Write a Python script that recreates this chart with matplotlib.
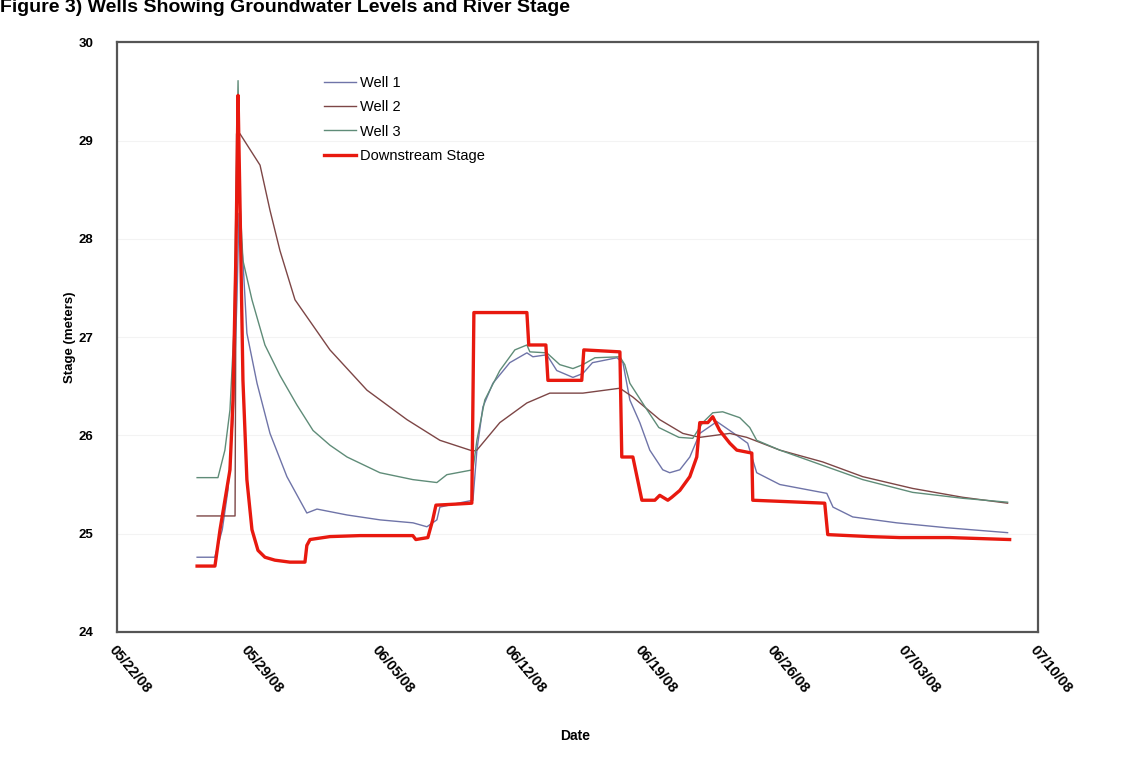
import pandas as pd
import numpy as np
import matplotlib
matplotlib.use("Agg")
import matplotlib.pyplot as plt
import matplotlib.dates as mdates

plt.rcParams["font.family"] = ["Liberation Sans", "DejaVu Sans"]

start = pd.Timestamp("2008-05-22")

# days after 05/22/08 and stage in meters
well1_day = [4.26, 5.2, 5.6, 5.9, 6.17, 6.38, 6.49, 6.7, 6.91, 7.45, 8.14, 9.04, 10.1, 10.64, 12.24, 14.0, 15.75, 16.49, 17.02, 17.18, 18.4, 18.94,
             19.15, 19.47, 20.0, 20.9, 21.81, 22.13, 22.87, 23.4, 24.26, 24.79, 25.3, 26.6, 26.92, 27.29, 27.82, 28.35, 29.04, 29.41, 29.95, 30.48,
             31.01, 31.92, 32.98, 33.56, 34.04, 35.27, 37.77, 38.1, 39.15, 41.49, 44.15, 47.39]
well1_val = [24.76, 24.76, 25.04, 25.44, 26.16, 27.38, 28.26, 27.78, 27.04, 26.53, 26.02, 25.58, 25.21, 25.25, 25.19, 25.14, 25.11, 25.07, 25.14, 25.27, 25.32, 25.34,
             25.85, 26.29, 26.53, 26.74, 26.84, 26.8, 26.82, 26.66, 26.59, 26.63, 26.74, 26.79, 26.74, 26.36, 26.13, 25.85, 25.65, 25.62, 25.65, 25.78,
             26.02, 26.14, 26.0, 25.92, 25.62, 25.5, 25.41, 25.27, 25.17, 25.11, 25.06, 25.01]

well2_day = [4.26, 6.28, 6.36, 6.54, 7.61, 8.14, 8.67, 9.47, 11.33, 13.3, 15.43, 17.18, 18.94, 19.15, 20.37, 21.81, 23.03, 24.79, 26.76, 27.45,
             28.88, 30.11, 31.01, 32.61, 33.51, 35.27, 37.55, 39.68, 42.34, 45.0, 47.39]
well2_val = [25.18, 25.18, 29.07, 29.07, 28.75, 28.29, 27.88, 27.38, 26.87, 26.46, 26.16, 25.95, 25.84, 25.85, 26.13, 26.33, 26.43, 26.43, 26.48, 26.39,
             26.16, 26.02, 25.98, 26.02, 25.98, 25.85, 25.73, 25.58, 25.46, 25.37, 25.31]

well3_day = [4.26, 5.37, 5.74, 6.01, 6.22, 6.33, 6.44, 6.54, 6.7, 7.18, 7.87, 8.67, 9.57, 10.43, 11.33, 12.24, 13.99, 15.74, 17.02, 17.55, 18.94,
             19.15, 19.57, 20.37, 21.17, 21.81, 21.97, 22.87, 23.56, 24.26, 24.79, 25.43, 26.76, 27.02, 27.29, 28.1, 28.83, 29.9, 30.64, 31.17, 31.7,
             32.23, 33.14, 33.67, 34.04, 35.27, 37.77, 39.68, 42.34, 45.0, 47.39]
well3_val = [25.57, 25.57, 25.85, 26.26, 27.07, 28.39, 29.61, 28.39, 27.78, 27.38, 26.92, 26.61, 26.31, 26.05, 25.9, 25.78, 25.62, 25.55, 25.52, 25.6, 25.65,
             25.95, 26.36, 26.66, 26.87, 26.92, 26.85, 26.84, 26.72, 26.68, 26.72, 26.79, 26.8, 26.72, 26.53, 26.29, 26.08, 25.98, 25.97, 26.13, 26.23,
             26.24, 26.18, 26.08, 25.95, 25.85, 25.68, 25.55, 25.42, 25.36, 25.32]

stage_day = [4.26, 5.21, 5.48, 5.74, 6.01, 6.17, 6.33, 6.44, 6.54, 6.7, 6.91, 7.18, 7.5, 7.87, 8.4, 9.2, 10.0, 10.1, 10.27, 11.33, 12.93, 15.05,
             15.74, 15.9, 16.54, 16.8, 16.97, 17.98, 18.88, 18.99, 21.81, 21.91, 22.82, 22.93, 24.73, 24.84, 26.76, 26.86, 27.45, 27.93, 28.62,
             28.88, 29.31, 29.52, 29.95, 30.48, 30.85, 31.01, 31.44, 31.7, 32.07, 32.61, 32.98, 33.78, 33.83, 37.66, 37.82, 40.05, 41.65, 44.31, 47.5]
stage_val = [24.67, 24.67, 25.04, 25.34, 25.65, 26.36, 27.88, 29.46, 28.39, 26.56, 25.55, 25.04, 24.83, 24.76, 24.73, 24.71, 24.71, 24.88, 24.94, 24.97, 24.98, 24.98,
             24.98, 24.94, 24.96, 25.14, 25.29, 25.3, 25.31, 27.25, 27.25, 26.92, 26.92, 26.56, 26.56, 26.87, 26.85, 25.78, 25.78, 25.34, 25.34,
             25.39, 25.34, 25.37, 25.44, 25.58, 25.78, 26.13, 26.13, 26.19, 26.05, 25.92, 25.85, 25.82, 25.34, 25.31, 24.99, 24.97, 24.96, 24.96, 24.94]

tick_dates = ["2008-05-22", "2008-05-29", "2008-06-05", "2008-06-12", "2008-06-19", "2008-06-26", "2008-07-03", "2008-07-10"]


def to_dates(days):
    return start + pd.to_timedelta(np.array(days), unit="D")


fig = plt.figure(figsize=(11.33, 7.84), dpi=100)
ax = fig.add_axes([0.1033, 0.194, 0.8127, 0.752])

ax.plot(to_dates(well1_day), well1_val, color="#6f74a8", lw=1.0, label="Well 1")
ax.plot(to_dates(well2_day), well2_val, color="#7d4646", lw=1.0, label="Well 2")
ax.plot(to_dates(well3_day), well3_val, color="#5f8c78", lw=1.0, label="Well 3")
ax.plot(to_dates(stage_day), stage_val, color="#e8190f", lw=2.4, label="Downstream Stage")

ax.set_ylim(24, 30)
ax.set_yticks(range(24, 31))
ax.set_xlim(pd.Timestamp(tick_dates[0]), pd.Timestamp(tick_dates[-1]))
ax.set_xticks(pd.to_datetime(tick_dates))
ax.xaxis.set_major_formatter(mdates.DateFormatter("%m/%d/%y"))
ax.grid(axis="y", color="#f3f3f3", lw=0.8)
ax.set_axisbelow(True)

ax.tick_params(length=0, labelsize=9.5)
ax.tick_params(axis="y", pad=17)
ax.tick_params(axis="x", labelsize=10.5, pad=8)
for lab in ax.get_yticklabels():
    lab.set_fontweight("bold")
for lab in ax.get_xticklabels():
    lab.set_fontweight("bold")
    lab.set_rotation(-50)
    lab.set_ha("left")
    lab.set_va("top")
    lab.set_rotation_mode("anchor")

for side in ["left", "right", "top", "bottom"]:
    ax.spines[side].set_color("#555555")
    ax.spines[side].set_linewidth(1.6)

ax.set_ylabel("Stage (meters)", fontsize=9.5, fontweight="bold")
ax.yaxis.set_label_coords(-0.045, 0.5)
ax.set_xlabel("Date", fontsize=10, fontweight="bold")
ax.xaxis.set_label_coords(0.497, -0.165)

ax.legend(loc="upper left", bbox_to_anchor=(0.21, 0.965), frameon=False, fontsize=10.5,
          handlelength=2.2, handletextpad=0.3, labelspacing=0.7)

fig.text(0.0, 0.985, "Figure 3) Wells Showing Groundwater Levels and River Stage",
         fontsize=14, fontweight="bold", va="baseline", ha="left")

fig.savefig("out.png", dpi=100)
